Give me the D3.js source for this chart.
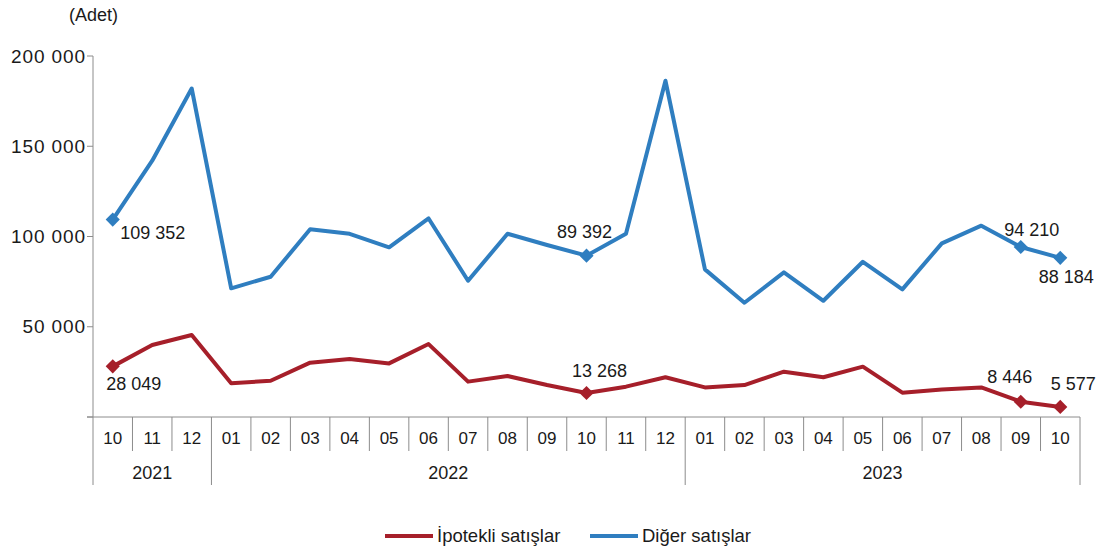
<!DOCTYPE html>
<html>
<head>
<meta charset="utf-8">
<script src="https://cdn.jsdelivr.net/npm/d3@7"></script>
<style>
  body { margin: 0; background: #fff; }
  svg text { font-family: "Liberation Sans", Arial, sans-serif; fill: #1a1a1a; }
</style>
</head>
<body>
<div class="chart"></div>
<script>
// 月ラベルと年グループ
const months = ["10","11","12","01","02","03","04","05","06","07","08","09","10","11","12",
                "01","02","03","04","05","06","07","08","09","10"];
const years = [
  { year: "2021", start: 0, count: 3 },
  { year: "2022", start: 3, count: 12 },
  { year: "2023", start: 15, count: 10 }
];

// 系列データ (Adet)
const ipotekli = [28049, 39900, 45400, 18650, 20100, 30100, 32100, 29700, 40400, 19600, 22700, 17700,
                  13268, 16800, 22000, 16400, 17700, 25100, 22000, 27900, 13500, 15300, 16400, 8446, 5577];
const diger = [109352, 142000, 182000, 71300, 77700, 104000, 101500, 94000, 110000, 75500, 101500, 95300,
               89392, 101500, 186300, 81800, 63300, 80100, 64400, 86000, 70700, 96200, 106000, 94210, 88184];

// ラベルを付ける点
const labelled = [0, 12, 23, 24];
const yTicks = [0, 50000, 100000, 150000, 200000];

const W = 1108, H = 549;
const margin = { top: 56, left: 93, right: 28, bottom: 132 };
const width = W - margin.left - margin.right;
const height = H - margin.top - margin.bottom;

const svg = d3.select(".chart").append("svg")
    .attr("width", W).attr("height", H);
const g = svg.append("g").attr("transform", `translate(${margin.left},${margin.top})`);

const x = d3.scaleBand().domain(d3.range(months.length)).range([0, width]);
const y = d3.scaleLinear().domain([0, 200000]).range([height, 0]);
const fmt = v => d3.format(",")(v).replace(/,/g, " ");

const axisColor = "#8c8c8c";

// y軸
g.append("line").attr("x1", 0).attr("x2", 0).attr("y1", y(200000)).attr("y2", height)
    .attr("stroke", axisColor);
g.selectAll(".ytick").data(yTicks).enter().append("line")
    .attr("x1", -6).attr("x2", 0)
    .attr("y1", d => y(d)).attr("y2", d => y(d))
    .attr("stroke", axisColor);
g.selectAll(".ylabel").data(yTicks.filter(d => d > 0)).enter().append("text")
    .attr("x", -7).attr("y", d => y(d)).attr("dy", "0.35em")
    .attr("text-anchor", "end").style("font-size", "19px").style("letter-spacing", "0.9px")
    .text(fmt);

g.append("text").attr("x", -24).attr("y", -41).attr("dy", "0.35em")
    .style("font-size", "18px").text("(Adet)");

// x軸
g.append("line").attr("x1", -6).attr("x2", width).attr("y1", height).attr("y2", height)
    .attr("stroke", axisColor);
const yearEdges = years.map(d => d.start).concat([months.length]);
g.selectAll(".xsep").data(d3.range(months.length + 1)).enter().append("line")
    .attr("x1", d => d * x.step()).attr("x2", d => d * x.step())
    .attr("y1", height)
    .attr("y2", d => yearEdges.includes(d) ? height + 68 : height + 34)
    .attr("stroke", axisColor);
g.selectAll(".month").data(months).enter().append("text")
    .attr("x", (d, i) => x(i) + x.bandwidth() / 2).attr("y", height + 21).attr("dy", "0.35em")
    .attr("text-anchor", "middle").style("font-size", "17px")
    .text(d => d);
g.selectAll(".year").data(years).enter().append("text")
    .attr("x", d => x.step() * (d.start + d.count / 2)).attr("y", height + 56).attr("dy", "0.35em")
    .attr("text-anchor", "middle").style("font-size", "18px")
    .text(d => d.year);

// 線
const series = [
  { name: "İpotekli satışlar", values: ipotekli, color: "#a61f2a" },
  { name: "Diğer satışlar", values: diger, color: "#2f7ec0" }
];
const line = d3.line().x((d, i) => x(i) + x.bandwidth() / 2).y(d => y(d));

series.forEach(s => {
  g.append("path").datum(s.values)
      .attr("fill", "none").attr("stroke", s.color).attr("stroke-width", 4)
      .attr("stroke-linejoin", "round").attr("d", line);
  // ひし形マーカー (正方形を45度回転)
  g.selectAll(null).data(labelled).enter().append("path")
      .attr("d", d3.symbol(d3.symbolSquare, 100)())
      .attr("transform", i => `translate(${x(i) + x.bandwidth() / 2},${y(s.values[i])}) rotate(45)`)
      .attr("fill", s.color);
});

// データラベル (点からのオフセット)
const labelPos = [
  { s: 1, i: 0, dx: 40, dy: 13 },
  { s: 1, i: 12, dx: -2, dy: -24 },
  { s: 1, i: 23, dx: 11, dy: -17 },
  { s: 1, i: 24, dx: 6, dy: 19 },
  { s: 0, i: 0, dx: 21, dy: 17 },
  { s: 0, i: 12, dx: 13, dy: -22 },
  { s: 0, i: 23, dx: -11, dy: -25 },
  { s: 0, i: 24, dx: 13, dy: -23 }
];
g.selectAll(".dlabel").data(labelPos).enter().append("text")
    .attr("x", d => x(d.i) + x.bandwidth() / 2 + d.dx)
    .attr("y", d => y(series[d.s].values[d.i]) + d.dy)
    .attr("dy", "0.35em").attr("text-anchor", "middle").style("font-size", "18px")
    .text(d => fmt(series[d.s].values[d.i]));

// 凡例
const legend = svg.append("g").attr("transform", "translate(385,536)");
const legendX = [0, 205];
series.forEach((s, k) => {
  const lg = legend.append("g").attr("transform", `translate(${legendX[k]},0)`);
  lg.append("line").attr("x1", 0).attr("x2", 48).attr("stroke", s.color).attr("stroke-width", 4);
  lg.append("text").attr("x", 52).attr("dy", "0.35em").style("font-size", "18.5px").text(s.name);
});
</script>
</body>
</html>
